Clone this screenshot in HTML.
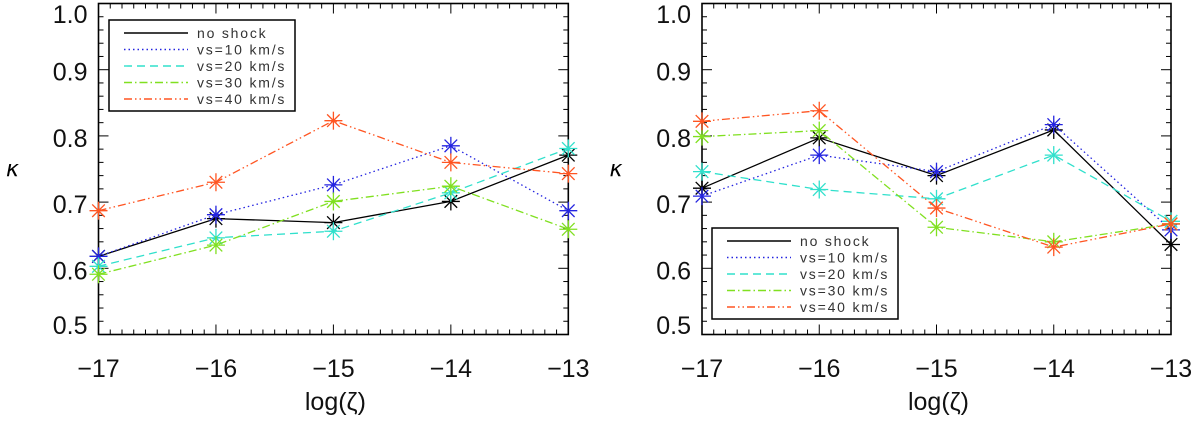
<!DOCTYPE html>
<html><head><meta charset="utf-8">
<style>
html,body{margin:0;padding:0;background:#fff;}
svg{display:block;font-family:"Liberation Sans","DejaVu Sans",sans-serif;}
</style></head>
<body>
<svg id="chart" width="1200" height="423" viewBox="0 0 1200 423" xmlns="http://www.w3.org/2000/svg"></svg>
<script>
const xCategories = [-17, -16, -15, -14, -13];
const yTicks = [0.5, 0.6, 0.7, 0.8, 0.9, 1.0];
const yTickLabels = ["0.5", "0.6", "0.7", "0.8", "0.9", "1.0"];
const xTickLabels = ["\u221217", "\u221216", "\u221215", "\u221214", "\u221213"];
const seriesNames = ["no shock", "vs=10 km/s", "vs=20 km/s", "vs=30 km/s", "vs=40 km/s"];
const leftNoShock = [0.618, 0.675, 0.669, 0.701, 0.771];
const leftVs10 = [0.618, 0.681, 0.726, 0.785, 0.687];
const leftVs20 = [0.603, 0.646, 0.656, 0.714, 0.781];
const leftVs30 = [0.591, 0.635, 0.701, 0.724, 0.659];
const leftVs40 = [0.687, 0.730, 0.823, 0.760, 0.743];
const rightNoShock = [0.721, 0.797, 0.740, 0.809, 0.636];
const rightVs10 = [0.709, 0.771, 0.746, 0.817, 0.658];
const rightVs20 = [0.746, 0.719, 0.705, 0.771, 0.671];
const rightVs30 = [0.799, 0.808, 0.662, 0.640, 0.667];
const rightVs40 = [0.822, 0.838, 0.691, 0.632, 0.667];

const NS = "http://www.w3.org/2000/svg";
const svg = document.getElementById("chart");
const styles = [
  {color:"#000000", dash:"", name:"no-shock"},
  {color:"#2424e0", dash:"1.5,3", name:"vs10"},
  {color:"#30e0cc", dash:"8,5", name:"vs20"},
  {color:"#80e020", dash:"8,3,1.5,3", name:"vs30"},
  {color:"#ff5522", dash:"8,3,1.5,3,1.5,3", name:"vs40"}
];
function mk(tag, attrs, parent){
  const e = document.createElementNS(NS, tag);
  for (const k in attrs) e.setAttribute(k, attrs[k]);
  (parent||svg).appendChild(e);
  return e;
}
function drawPanel(pid, x0, x1, data, legend){
  const yTop = 3.5, yBot = 334.5;
  const sx = v => x0 + (v - (-17)) / 4 * (x1 - x0);
  const sy = v => yBot - (v - 0.5) / 0.5 * (yBot - yTop);
  const g = mk("g", {});
  
  
  const fr = mk("rect", {x:x0, y:yTop, width:x1-x0, height:yBot-yTop, fill:"none", stroke:"#000", "stroke-width":1.6}, g);
  
  
  for (let i = 0; i <= 40; i++){
    const v = -17 + i * 0.1;
    const x = sx(v);
    const len = (i % 10 === 0) ? 10 : 5;
    mk("line", {x1:x, x2:x, y1:yBot, y2:yBot-len, stroke:"#000", "stroke-width":1}, g);
    mk("line", {x1:x, x2:x, y1:yTop, y2:yTop+len, stroke:"#000", "stroke-width":1}, g);
  }
  xCategories.forEach((c, i) => {
    const t = mk("text", {x:sx(c), y:377, "font-size":25, "text-anchor":"middle", fill:"#111"}, g);
    t.textContent = xTickLabels[i];
    
    
  });
  for (let i = 0; i <= 25; i++){
    const v = 0.5 + i * 0.02;
    const y = sy(v);
    const len = (i % 5 === 0) ? 10 : 5;
    mk("line", {x1:x0, x2:x0+len, y1:y, y2:y, stroke:"#000", "stroke-width":1}, g);
    mk("line", {x1:x1, x2:x1-len, y1:y, y2:y, stroke:"#000", "stroke-width":1}, g);
  }
  yTicks.forEach((v, i) => {
    const by = Math.min(Math.max(sy(v) + 11, 23), 334);
    const t = mk("text", {x:x0-11, y:by, "font-size":25, "text-anchor":"end", fill:"#111"}, g);
    t.textContent = yTickLabels[i];
    
    
  });
  const xt = mk("text", {x:(x0+x1)/2 + 2, y:410, "font-size":25, "text-anchor":"middle", fill:"#111"}, g);
  xt.textContent = "log(\u03b6)";
  
  
  const yt = mk("text", {x:x0-86, y:176, "font-size":22, "text-anchor":"middle", fill:"#000", "font-style":"italic", "font-family":"DejaVu Sans, sans-serif"}, g);
  yt.textContent = "\u03ba";
  
  
  data.forEach((vals, si) => {
    const st = styles[si];
    const sg = mk("g", {}, g);
    
    
    const pts = vals.map((v, i) => sx(xCategories[i]).toFixed(1) + "," + sy(v).toFixed(1)).join(" ");
    const pl = mk("polyline", {points:pts, fill:"none", stroke:st.color, "stroke-width":1.3, "stroke-dasharray":st.dash}, sg);
    
    
    vals.forEach((v, i) => {
      const cx = sx(xCategories[i]), cy = sy(v), r = 9;
      const m = mk("g", {stroke:st.color, "stroke-width":1.3}, sg);
      
      
      mk("line", {x1:cx-r, x2:cx+r, y1:cy, y2:cy}, m);
      mk("line", {x1:cx, x2:cx, y1:cy-r, y2:cy+r}, m);
      mk("line", {x1:cx-r*0.7, x2:cx+r*0.7, y1:cy-r*0.7, y2:cy+r*0.7}, m);
      mk("line", {x1:cx-r*0.7, x2:cx+r*0.7, y1:cy+r*0.7, y2:cy-r*0.7}, m);
    });
  });
  const lg = mk("g", {}, g);
  
  
  mk("rect", {x:legend.x, y:legend.y, width:186, height:91, fill:"#fff", stroke:"#000", "stroke-width":1.5}, lg);
  seriesNames.forEach((n, i) => {
    const y = legend.y + 13 + i * 16.5;
    const e = mk("g", {}, lg);
    
    
    mk("line", {x1:legend.x+15, x2:legend.x+79, y1:y, y2:y, stroke:styles[i].color, "stroke-width":1.4, "stroke-dasharray":styles[i].dash}, e);
    const t = mk("text", {x:legend.x+88, y:y+5, "font-size":14, fill:"#333", "letter-spacing":"1.8"}, e);
    t.textContent = n;
  });
}
drawPanel("left", 98.5, 568.3, [leftNoShock, leftVs10, leftVs20, leftVs30, leftVs40], {x:109, y:20});
drawPanel("right", 702, 1171, [rightNoShock, rightVs10, rightVs20, rightVs30, rightVs40], {x:712, y:228});
</script>
</body></html>
